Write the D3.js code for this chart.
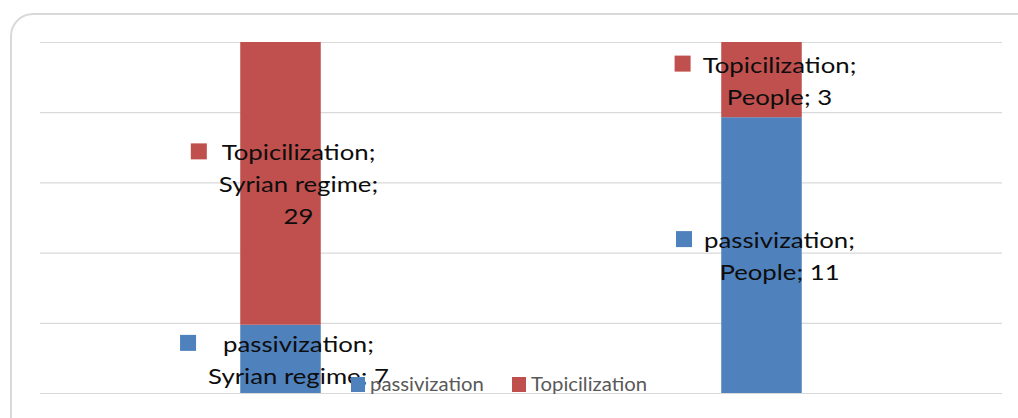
<!DOCTYPE html>
<html><head><meta charset="utf-8">
<script src="https://cdn.jsdelivr.net/npm/d3@7"></script>
<style>
html,body{margin:0;padding:0;background:#fff;overflow:hidden}
svg{display:block}
</style></head>
<body>
<svg id="c" width="1018" height="418"></svg>
<script>
// ---- data ----
const categories = ["Syrian regime", "People"];
const seriesNames = ["passivization", "Topicilization"];
const passivization = [7, 11];
const topicilization = [29, 3];
const yTicks = [0, 20, 40, 60, 80, 100];
// line breaking of the data labels: [series index][category index] -> lines
const labelLines = [
  [["passivization;", "Syrian regime; 7"], ["passivization;", "People; 11"]],
  [["Topicilization;", "Syrian regime;", "29"], ["Topicilization;", "People; 3"]]
];
const colors = ["#4F81BD", "#C0504D"];

// ---- layout ----
const svg = d3.select("#c");
const FONT = "Lato, 'Open Sans', sans-serif";
const plot = {left: 40, right: 1002, top: 42, bottom: 393};

// chart border (extends past the visible area)
svg.append("rect").attr("x", 11).attr("y", 14).attr("width", 1040).attr("height", 440)
  .attr("rx", 22).attr("ry", 22).attr("fill", "#fff")
  .attr("stroke", "#d9d9d9").attr("stroke-width", 2);

const x = d3.scaleBand().domain(categories).range([plot.left, plot.right]).padding(0);
const y = d3.scaleLinear().domain([0, 100]).range([plot.bottom, plot.top]);
const barW = x.bandwidth() * 0.1674;

// gridlines
const gAxis = svg.append("g").attr("transform", `translate(${plot.left},0)`)
  .call(d3.axisLeft(y).tickValues(yTicks).tickSize(-(plot.right - plot.left)).tickFormat(""));
gAxis.select(".domain").remove();
gAxis.selectAll(".tick line").attr("stroke", "#d9d9d9").attr("stroke-width", 1.2);

// stacked 100% data
const rows = categories.map((c, i) => ({cat: c, passivization: passivization[i], Topicilization: topicilization[i]}));
const stack = d3.stack().keys(seriesNames).offset(d3.stackOffsetExpand);
const stacked = stack(rows);

const gBars = svg.append("g");
stacked.forEach((layer, si) => {
  gBars.selectAll(null).data(layer).enter().append("rect")
    .attr("x", d => x(d.data.cat) + x.bandwidth() / 2 - barW / 2)
    .attr("width", barW)
    .attr("y", d => y(d[1] * 100))
    .attr("height", d => y(d[0] * 100) - y(d[1] * 100))
    .attr("fill", colors[si]);
});

// data labels
const FS = 22, LH = 32, SQ = 16, GAP = 12, SX = 1.17;
const gLab = svg.append("g").attr("font-family", FONT).attr("font-size", FS).attr("fill", "#0d0d0d");
stacked.forEach((layer, si) => {
  layer.forEach((d, ci) => {
    const lines = labelLines[si][ci];
    const cx = x(d.data.cat) + x.bandwidth() / 2 + 4;
    const cy = (y(d[0] * 100) + y(d[1] * 100)) / 2;
    const g = gLab.append("g");
    const t = g.append("text").attr("text-anchor", "middle");
    lines.forEach((ln, k) => t.append("tspan").attr("x", 0).attr("y", k * LH).text(ln));
    let maxW = 0;
    t.selectAll("tspan").each(function () { maxW = Math.max(maxW, this.getComputedTextLength()); });
    maxW *= SX;
    const blockW = SQ + GAP + maxW;
    const left = cx - blockW / 2;
    const textCx = left + SQ + GAP + maxW / 2;
    const firstBase = cy - (lines.length * LH) / 2 + 25;
    t.attr("transform", `translate(${textCx},${firstBase}) scale(${SX},1)`);
    g.append("rect").attr("x", left).attr("y", firstBase - 1 - SQ).attr("width", SQ).attr("height", SQ)
      .attr("fill", colors[si]);
  });
});

// legend
const legendX = [351, 512];
const gLeg = svg.append("g").attr("font-family", FONT).attr("font-size", 19).attr("fill", "#595959");
seriesNames.forEach((s, i) => {
  gLeg.append("rect").attr("x", legendX[i]).attr("y", 377).attr("width", 14).attr("height", 15).attr("fill", colors[i]);
  gLeg.append("text").attr("transform", `translate(${legendX[i] + 19},391) scale(1.07,1)`).text(s);
});
</script>
</body></html>
